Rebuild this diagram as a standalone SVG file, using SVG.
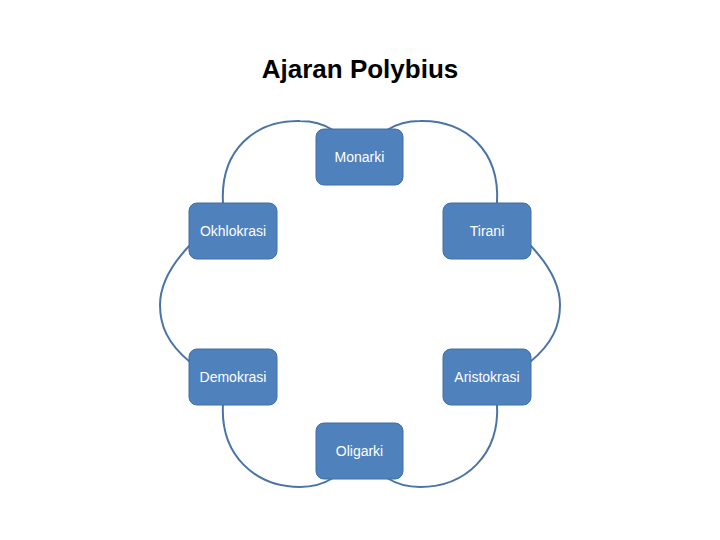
<svg xmlns="http://www.w3.org/2000/svg" width="720" height="540" viewBox="0 0 720 540">
<style>
.b{fill:#4f81bd;stroke:#3f6ea6;stroke-width:1}
.t{fill:#fff;font-family:"Liberation Sans",Arial,sans-serif;font-size:14px;text-anchor:middle}
.c{fill:none;stroke:#4a74a8;stroke-width:2}
</style>
<rect width="720" height="540" fill="#fff"/>
<text x="360" y="78" font-family="Liberation Sans,Arial,sans-serif" font-size="26" font-weight="bold" text-anchor="middle">Ajaran Polybius</text>
<g id="connectors">
<path class="c" d="M223,203 C220,150 255,120 300,121 C315,121 325,125 333,130"/>
<path class="c" d="M497,203 C500,150 465,120 420,121 C405,121 395,125 387,130"/>
<path class="c" d="M190,245 C168,268 160,288 160,305 C160,325 167,343 190,362"/>
<path class="c" d="M530,245 C552,268 560,288 560,305 C560,325 553,343 530,362"/>
<path class="c" d="M223,404 C220,455 255,487 300,487 C315,487 325,483 333,478"/>
<path class="c" d="M497,404 C500,455 465,487 420,487 C405,487 395,483 387,478"/>
</g>
<g id="monarki"><rect class="b" x="316" y="129" width="87" height="56" rx="8"/><text class="t" x="359.5" y="162">Monarki</text></g>
<g id="okhlokrasi"><rect class="b" x="189" y="203" width="88" height="56" rx="8"/><text class="t" x="233" y="236">Okhlokrasi</text></g>
<g id="tirani"><rect class="b" x="443" y="203" width="88" height="56" rx="8"/><text class="t" x="487" y="236">Tirani</text></g>
<g id="demokrasi"><rect class="b" x="189" y="349" width="88" height="56" rx="8"/><text class="t" x="233" y="382">Demokrasi</text></g>
<g id="aristokrasi"><rect class="b" x="443" y="349" width="88" height="56" rx="8"/><text class="t" x="487" y="382">Aristokrasi</text></g>
<g id="oligarki"><rect class="b" x="316" y="423" width="87" height="56" rx="8"/><text class="t" x="359.5" y="456">Oligarki</text></g>
</svg>
